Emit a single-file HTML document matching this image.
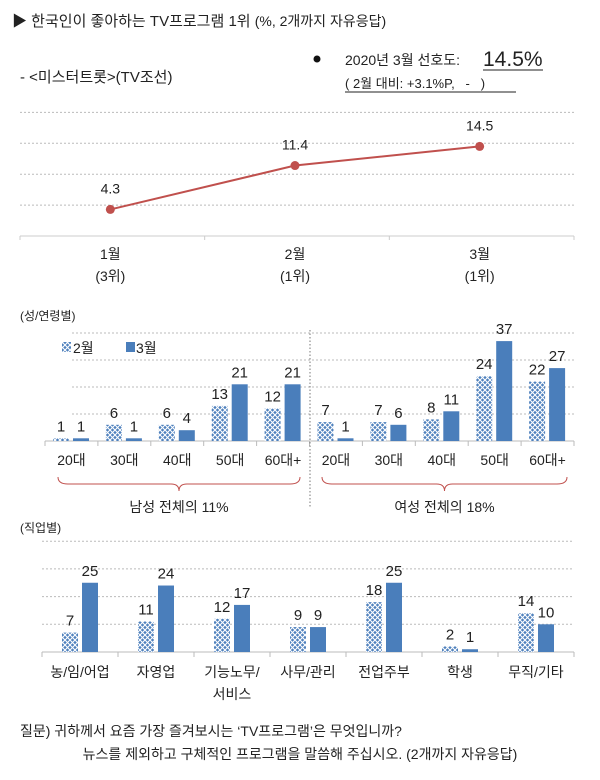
<!DOCTYPE html>
<html><head><meta charset="utf-8"><style>
body{margin:0;background:#fff;}
svg text{font-family:"Liberation Sans","Noto Sans CJK KR",sans-serif;fill:#222;}
</style></head><body>
<svg width="600" height="775" viewBox="0 0 600 775" xmlns="http://www.w3.org/2000/svg">
<defs>
<pattern id="hatch" width="5" height="5" patternUnits="userSpaceOnUse">
<rect width="5" height="5" fill="#4f81bd"/>
<path d="M0 0L5 5M5 0L0 5" stroke="#fff" stroke-width="1.1"/>
</pattern>
</defs>
<g id="top">
<text x="12" y="26" font-size="15">▶ 한국인이 좋아하는 TV프로그램 1위 <tspan font-size="14">(%, 2개까지 자유응답)</tspan></text>
<text x="20" y="82" font-size="15">- &lt;미스터트롯&gt;(TV조선)</text>
<circle cx="317" cy="59" r="3.5" fill="#111"/>
<text x="345" y="65" font-size="14">2020년 3월 선호도:</text>
<text x="483" y="66" font-size="21">14.5%</text>
<line x1="483" y1="70" x2="543" y2="70" stroke="#222"/>
<text x="345" y="88" font-size="13">( 2월 대비: +3.1%P,&#160;&#160;&#160;-&#160;&#160;&#160;)</text>
<line x1="345" y1="92" x2="516" y2="92" stroke="#222"/>
</g>
<g id="line"></g>
<text x="20" y="320" font-size="12">(성/연령별)</text>
<g id="bars1"></g>
<text x="20" y="532" font-size="12">(직업별)</text>
<g id="bars2"></g>
<text x="20" y="736" font-size="14">질문) 귀하께서 요즘 가장 즐겨보시는 ‘TV프로그램’은 무엇입니까?</text>
<text x="300" y="759" font-size="14" text-anchor="middle">뉴스를 제외하고 구체적인 프로그램을 말씀해 주십시오. (2개까지 자유응답)</text>
</svg>
<script>
const lineCats=['1월','2월','3월'];
const lineRanks=['(3위)','(1위)','(1위)'];
const lineVals=[4.3,11.4,14.5];
const ageCats=['20대','30대','40대','50대','60대+','20대','30대','40대','50대','60대+'];
const ageFeb=[1,6,6,13,12,7,7,8,24,22];
const ageMar=[1,1,4,21,21,1,6,11,37,27];
const jobCats=[['농/임/어업'],['자영업'],['기능노무/','서비스'],['사무/관리'],['전업주부'],['학생'],['무직/기타']];
const jobFeb=[7,11,12,9,18,2,14];
const jobMar=[25,24,17,9,25,1,10];
const NS='http://www.w3.org/2000/svg';
function mk(p,t,a,txt){const e=document.createElementNS(NS,t);for(const k in a)e.setAttribute(k,a[k]);if(txt!=null)e.textContent=txt;p.appendChild(e);return e;}
// line chart
(function(){
const g=document.getElementById('line');
const x0=20,x1=574,y0=236,k=6.18;
const bw=(x1-x0)/lineCats.length;
const X=i=>x0+bw*(i+0.5)-2,Y=v=>y0-v*k;
for(let v=5;v<=20;v+=5){const l=mk(g,'line',{x1:x0,x2:x1,y1:Y(v),y2:Y(v),stroke:'#bbb','stroke-dasharray':'2,2'});

}
const ax=mk(g,'line',{x1:x0,x2:x1,y1:y0,y2:y0,stroke:'#ccc'});


for(let i=0;i<=lineCats.length;i++){const t=mk(g,'line',{x1:x0+bw*i,x2:x0+bw*i,y1:y0,y2:y0+4,stroke:'#ccc'});

}
const pl=mk(g,'polyline',{points:lineVals.map((v,i)=>X(i)+','+Y(v)).join(' '),fill:'none',stroke:'#c0504d','stroke-width':2});


lineVals.forEach((v,i)=>{
const c=mk(g,'circle',{cx:X(i),cy:Y(v),r:4.5,fill:'#c0504d'});


const t=mk(g,'text',{x:X(i),y:Y(v)-16,'font-size':14,'text-anchor':'middle'},v.toFixed(1));


const c1=mk(g,'text',{x:X(i),y:259,'font-size':14,'text-anchor':'middle'},lineCats[i]);


const c2=mk(g,'text',{x:X(i),y:281,'font-size':14,'text-anchor':'middle'},lineRanks[i]);


});
})();
function bars(gid,cats,feb,mar,x0,x1,y0,k,off,labelY){
const g=document.getElementById(gid);
const gw=(x1-x0)/cats.length,Y=v=>y0-v*k;
for(let v=10;v<=40;v+=10){const l=mk(g,'line',{x1:x0+(gid==='bars1'?27:0),x2:x1,y1:Y(v),y2:Y(v),stroke:'#bbb','stroke-dasharray':'2,2'});

}
const ax=mk(g,'line',{x1:x0,x2:x1,y1:y0,y2:y0,stroke:'#bbb'});


for(let i=0;i<=cats.length;i++){const t=mk(g,'line',{x1:x0+gw*i,x2:x0+gw*i,y1:y0,y2:y0+5,stroke:'#bbb'});

}
cats.forEach((c,i)=>{
const gx=x0+gw*i;
[[feb[i],'url(#hatch)','bar-feb',gx+off],[mar[i],'#4a7ebb','bar-mar',gx+off+20]].forEach(([v,f,n,bx])=>{
const r=mk(g,'rect',{x:bx,y:Y(v),width:16,height:v*k,fill:f});


const t=mk(g,'text',{x:bx+8,y:Y(v)-7,'font-size':15,'text-anchor':'middle'},v);


});
(Array.isArray(c)?c:[c]).forEach((s,j)=>{
const t=mk(g,'text',{x:gx+gw/2,y:labelY+j*22,'font-size':14,'text-anchor':'middle'},s);


});
});
return g;
}
const g1=bars('bars1',ageCats,ageFeb,ageMar,45,574,441,2.7,8,465);
(function(g){
const d=mk(g,'line',{x1:310,x2:310,y1:330,y2:508,stroke:'#777','stroke-dasharray':'1.5,2'});


[[58,300,'남성 전체의 11%'],[322,567,'여성 전체의 18%']].forEach(([a,b,s])=>{
const m=(a+b)/2;
const p=mk(g,'path',{d:`M${a} 477 Q${a} 484 ${a+10} 484 L${m-8} 484 Q${m} 484 ${m} 491 Q${m} 484 ${m+8} 484 L${b-10} 484 Q${b} 484 ${b} 477`,fill:'none',stroke:'#c0504d','stroke-width':1});


const t=mk(g,'text',{x:m,y:512,'font-size':14,'text-anchor':'middle'},s);


});
const l1=mk(g,'rect',{x:62,y:342,width:9,height:10,fill:'url(#hatch)'});


const t1=mk(g,'text',{x:73,y:353,'font-size':14},'2월');


const l2=mk(g,'rect',{x:126,y:342,width:9,height:10,fill:'#4a7ebb'});


const t2=mk(g,'text',{x:136,y:353,'font-size':14},'3월');


})(g1);
bars('bars2',jobCats,jobFeb,jobMar,42,574,652,2.77,20,677);
</script>
</body></html>
